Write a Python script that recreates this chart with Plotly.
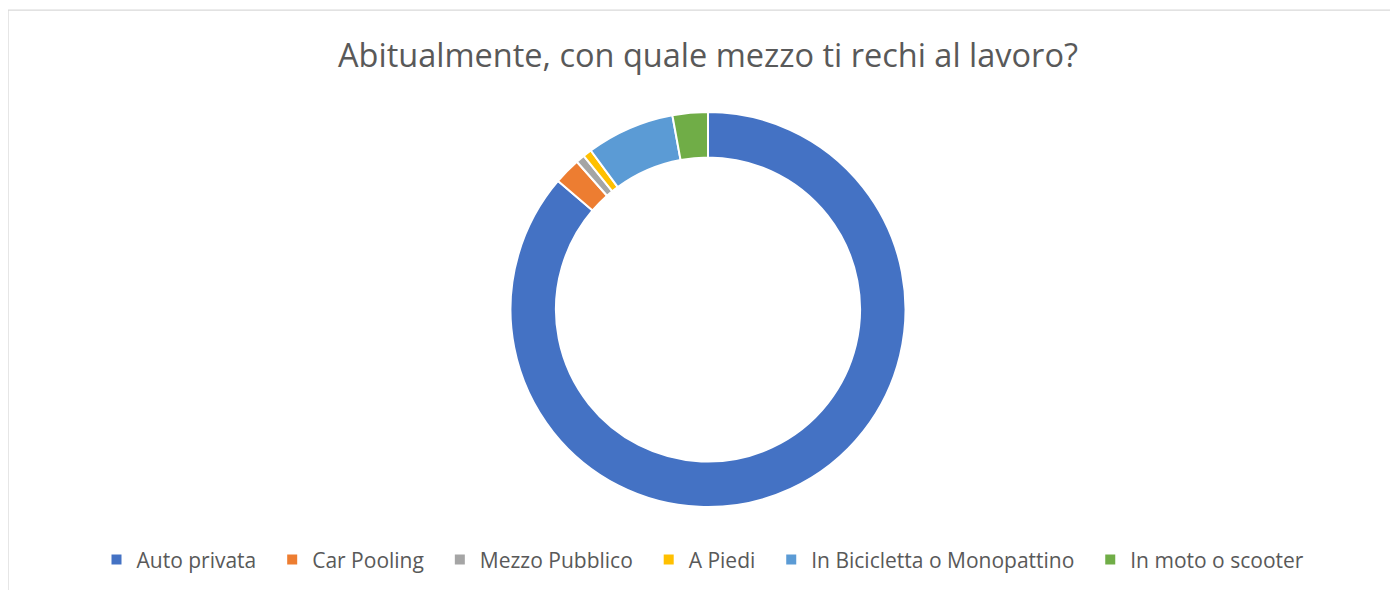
import plotly.graph_objects as go

# answers to the survey question (counts)
categories = ["Auto privata", "Car Pooling", "Mezzo Pubblico", "A Piedi",
              "In Bicicletta o Monopattino", "In moto o scooter"]
counts = [239, 6, 2, 2, 20, 8]
colors = ["#4472C4", "#ED7D31", "#A5A5A5", "#FFC000", "#5B9BD5", "#70AD47"]

# a bit of trailing space so legend entries spread out like the original
legend_labels = [c + "\u00a0\u00a0" for c in categories]

fig = go.Figure(go.Pie(
    labels=legend_labels,
    values=counts,
    hole=0.77,
    sort=False,
    direction="clockwise",
    rotation=0,
    textinfo="none",
    marker=dict(colors=colors, line=dict(color="white", width=2)),
))

# light grey chart frame (runs off right/bottom edge like the original)
fig.add_shape(type="rect", xref="paper", yref="paper",
              x0=-0.00725, x1=1.02, y0=-0.3, y1=1.258,
              line=dict(color="#D9D9D9", width=1.3), fillcolor="rgba(0,0,0,0)")

fig.update_layout(
    title=dict(text="Abitualmente, con quale mezzo ti rechi al lavoro?",
               x=0.5, xref="paper", xanchor="center", y=0.919, yanchor="middle",
               font=dict(family="Open Sans", size=32.5, color="#595959")),
    font=dict(family="Open Sans", color="#595959"),
    legend=dict(orientation="h", x=0.5, xanchor="center", y=-0.134, yanchor="middle",
                font=dict(size=21, color="#595959"), itemwidth=30),
    margin=dict(l=10, r=0, t=104, b=83),
    width=1390, height=582,
    paper_bgcolor="white", plot_bgcolor="white",
)

fig.write_html("out.html")
